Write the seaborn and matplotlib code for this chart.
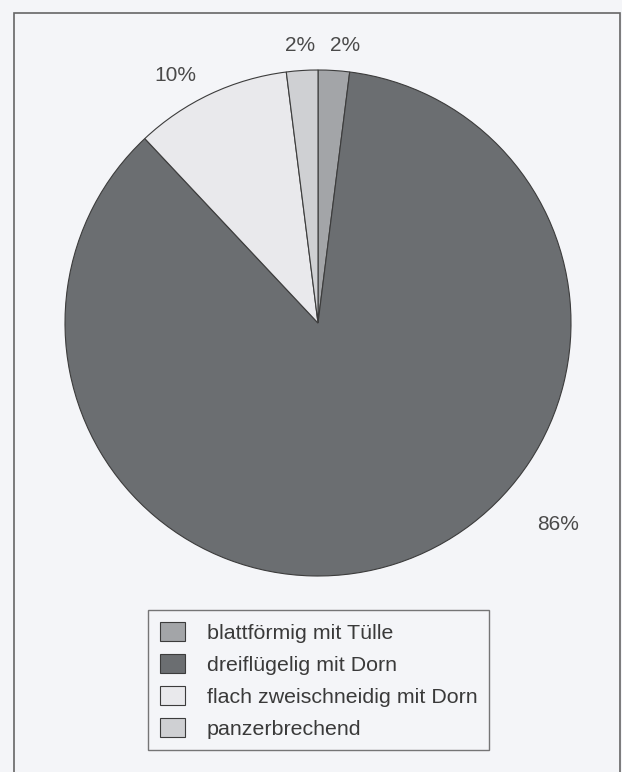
import numpy as np
import matplotlib
matplotlib.use("Agg")
import matplotlib.pyplot as plt
from matplotlib.patches import Rectangle
import seaborn as sns

# --- data ---
categories = ["blattförmig mit Tülle", "dreiflügelig mit Dorn",
              "flach zweischneidig mit Dorn", "panzerbrechend"]
shares = [2, 86, 10, 2]
colors = ["#a3a5a8", "#6b6e71", "#e9e9ec", "#cfd0d3"]

sns.set_theme(style="white")
plt.rcParams['font.family'] = ['Liberation Sans', 'DejaVu Sans']

bg = "#f4f5f8"
W, H = 622, 772
fig = plt.figure(figsize=(W / 100, H / 100), dpi=100, facecolor=bg)

# pie centre (318, 323) px from top-left, radius ~253 px
r_px = 253
lim = 1.2
side = 2 * lim * r_px
cx, cy = 318, 323
ax = fig.add_axes([(cx - side / 2) / W, (H - cy - side / 2) / H, side / W, side / H])
ax.set_facecolor(bg)

wedges, texts, autotexts = ax.pie(
    shares, colors=colors, startangle=90, counterclock=False,
    autopct='%1.0f%%', pctdistance=1.12,
    wedgeprops=dict(edgecolor="#3c3c3c", linewidth=0.8),
    textprops=dict(fontsize=15, color="#4a4a4a"))
ax.set_xlim(-lim, lim)
ax.set_ylim(-lim, lim)
ax.set_aspect("equal")
ax.axis("off")

# label placement like the original (angle in deg, distance in radii)
label_pos = [(84.5, 1.10), (-40, 1.24), (120, 1.13), (93.7, 1.10)]
for t, (a, d) in zip(autotexts, label_pos):
    a = np.deg2rad(a)
    t.set_position((d * np.cos(a), d * np.sin(a)))

# legend
leg = fig.legend(wedges, categories, loc="upper left",
                 bbox_to_anchor=(148 / W, 1 - 610 / H),
                 fontsize=15.4, frameon=True, fancybox=False,
                 handlelength=1.2, handleheight=1.0, handletextpad=1.0,
                 labelspacing=0.52, borderpad=0.55, borderaxespad=0)
leg.get_frame().set_edgecolor("#555555")
leg.get_frame().set_facecolor(bg)
leg.get_frame().set_linewidth(1.0)
for t in leg.get_texts():
    t.set_color("#3a3a3a")

# outer frame
fig.patches.append(Rectangle((14 / W, -0.02), (620 - 14) / W, 1.02 - 13 / H,
                             transform=fig.transFigure, fill=False,
                             edgecolor="#666666", linewidth=1.2))

plt.savefig("out.png", dpi=100, facecolor=bg)
